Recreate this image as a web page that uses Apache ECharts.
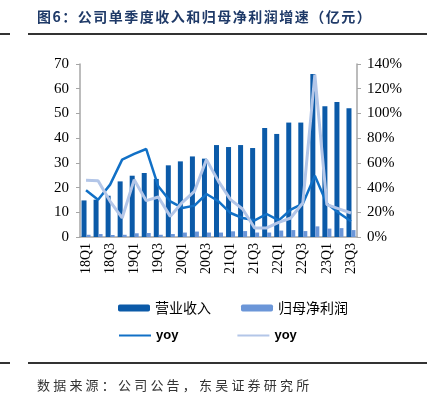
<!DOCTYPE html>
<html>
<head>
<meta charset="utf-8">
<script src="https://cdn.jsdelivr.net/npm/echarts@6/dist/echarts.min.js"></script>
<style>
  html, body { margin: 0; padding: 0; background: #fff; }
  #wrap { position: relative; width: 427px; height: 399px; overflow: hidden; }
  #chart { position: absolute; left: 0; top: 0; width: 427px; height: 399px; }
  .title { position: absolute; left: 37px; top: 6px; font-family: "Noto Sans CJK SC"; font-weight: bold;
    font-size: 14px; letter-spacing: 1.5px; color: #1f3a68; white-space: nowrap; }
  .src { position: absolute; left: 37px; top: 375px; font-family: "Noto Sans CJK SC";
    font-size: 13px; letter-spacing: 3.2px; color: #333; white-space: nowrap; }
  .rule { position: absolute; height: 2px; background: #333; }
</style>
</head>
<body>
<div id="wrap">
  <div id="chart"></div>
  <div class="title">图6：公司单季度收入和归母净利润增速（亿元）</div>
  <div class="rule" style="left:0;width:10px;top:33px"></div>
  <div class="rule" style="left:28px;width:399px;top:33px"></div>
  <div class="rule" style="left:0;width:10px;top:362px"></div>
  <div class="rule" style="left:28px;width:399px;top:362px"></div>
  <div class="src">数据来源：公司公告，东吴证券研究所</div>
</div>
<script>
// 季度
const quarters = ['18Q1', '18Q2', '18Q3', '18Q4', '19Q1', '19Q2', '19Q3', '19Q4',
  '20Q1', '20Q2', '20Q3', '20Q4', '21Q1', '21Q2', '21Q3', '21Q4',
  '22Q1', '22Q2', '22Q3', '22Q4', '23Q1', '23Q2', '23Q3']
// 营业收入（亿元）
const revenue = [14.8, 15.1, 16.7, 22.5, 24.8, 25.9, 23.5, 29.0, 30.6, 32.6, 31.7, 37.2,
  36.4, 37.2, 36.0, 44.1, 41.7, 46.3, 46.3, 66.0, 52.9, 54.6, 52.1]
// 归母净利润（亿元）
const netProfit = [0.9, 1.2, 0.8, 0.9, 1.5, 1.6, 0.9, 1.2, 1.8, 2.2, 1.8, 1.8,
  2.3, 2.4, 1.8, 1.8, 2.6, 2.8, 2.4, 4.3, 3.4, 3.6, 2.8]
// 营业收入 yoy (%)
const revenueYoy = [37.8, 30.2, 42.4, 62.6, 67.2, 71.2, 41.0, 28.9, 23.5, 25.4, 34.8, 28.9,
  19.4, 15.4, 13.5, 18.6, 13.5, 22.1, 27.0, 49.6, 27.0, 19.4, 12.7]
// 归母净利润 yoy (%)
const profitYoy = [45.9, 45.6, 28.9, 15.4, 46.4, 29.4, 32.4, 16.7, 28.1, 37.0, 62.6, 45.0,
  30.2, 22.7, 7.3, 7.3, 11.9, 15.4, 27.5, 131.4, 26.2, 22.7, 19.4]

const serif = 'Liberation Serif'
const cjk = 'Noto Sans CJK SC'
const axisGray = '#a6a6a6'

const chart = echarts.init(document.getElementById('chart'))
chart.setOption({
  animation: false,
  grid: { left: 80, right: 70, top: 64, bottom: 162 },
  legend: [
    {
      data: ['营业收入', '归母净利润'],
      left: 113, top: 296, itemWidth: 32, itemHeight: 7, itemGap: 30,
      textStyle: { fontFamily: cjk, fontSize: 14, color: '#000' }
    },
    {
      data: [
        { name: 'yoy', itemStyle: { opacity: 0 } },
        { name: 'yoy ', itemStyle: { opacity: 0 } }
      ],
      left: 113, top: 324, itemWidth: 32, itemHeight: 7, itemGap: 58,
      textStyle: { fontFamily: 'Liberation Sans', fontSize: 13, color: '#000', fontWeight: 'bold' },
      formatter: n => n.trim()
    }
  ],
  xAxis: {
    type: 'category',
    data: quarters,
    axisLine: { lineStyle: { color: axisGray, width: 1.5 } },
    axisTick: { show: false },
    axisLabel: {
      interval: 1, rotate: 90, fontFamily: serif, fontSize: 14, color: '#000', margin: 6
    }
  },
  yAxis: [
    {
      type: 'value', min: 0, max: 70, interval: 10,
      splitLine: { show: false },
      axisLine: { show: true, lineStyle: { color: axisGray, width: 1.5 } },
      axisTick: { show: true, length: 4, lineStyle: { color: axisGray } },
      axisLabel: { fontFamily: serif, fontSize: 15, color: '#000', margin: 11 }
    },
    {
      type: 'value', min: 0, max: 140, interval: 20,
      splitLine: { show: false },
      axisLine: { show: true, lineStyle: { color: axisGray, width: 1.5 } },
      axisTick: { show: true, length: 4, lineStyle: { color: axisGray } },
      axisLabel: { fontFamily: serif, fontSize: 15, color: '#000', margin: 10, formatter: '{value}%' }
    }
  ],
  series: [
    {
      name: '营业收入', type: 'bar', data: revenue, barWidth: 5, barGap: '0%',
      itemStyle: { color: '#0b5aa8' }
    },
    {
      name: '归母净利润', type: 'bar', data: netProfit, barWidth: 4,
      itemStyle: { color: '#6b96d8' }
    },
    {
      name: 'yoy', type: 'line', yAxisIndex: 1, data: revenueYoy, symbol: 'none',
      lineStyle: { color: '#1170c6', width: 2.5 }, itemStyle: { color: '#1170c6' }
    },
    {
      name: 'yoy ', type: 'line', yAxisIndex: 1, data: profitYoy, symbol: 'none',
      lineStyle: { color: '#b3c6e8', width: 3 }, itemStyle: { color: '#b3c6e8' }
    }
  ]
})
</script>
</body>
</html>
